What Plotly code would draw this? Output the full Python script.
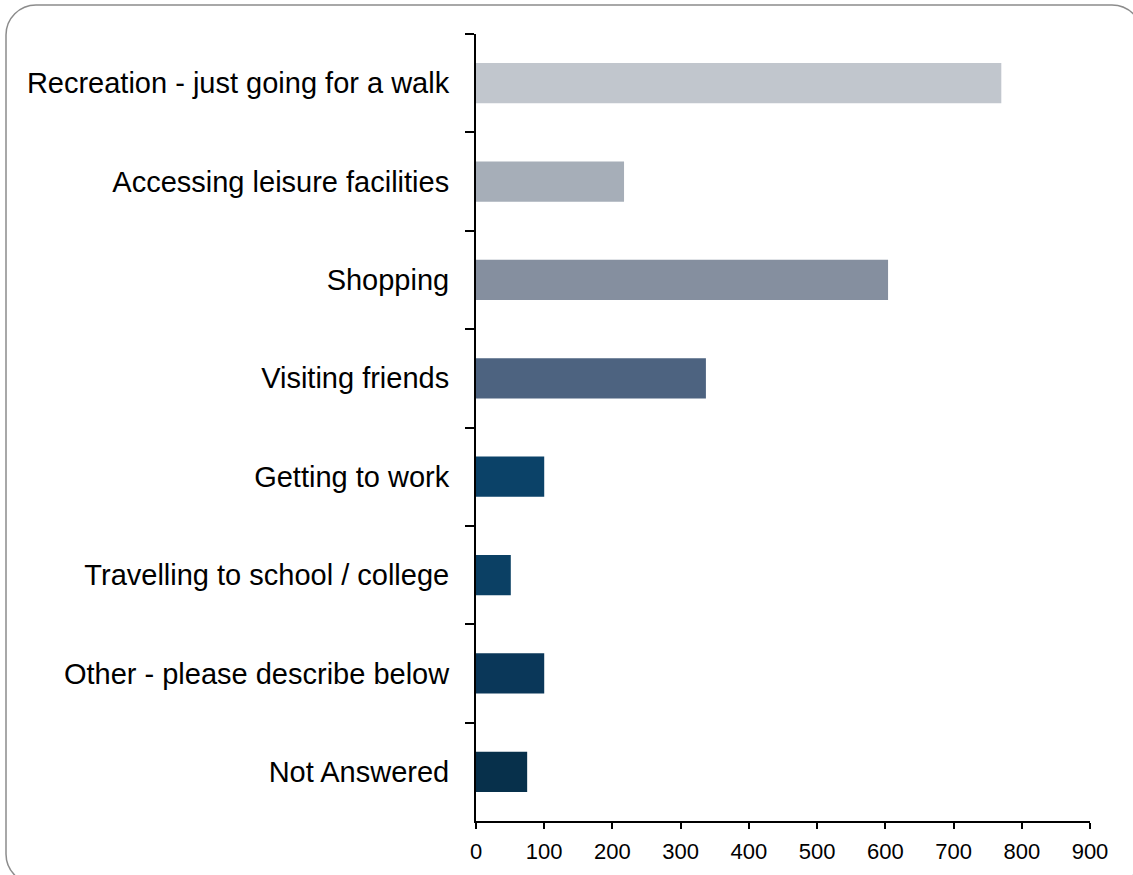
import plotly.graph_objects as go

categories = [
    "Recreation - just going for a walk",
    "Accessing leisure facilities",
    "Shopping",
    "Visiting friends",
    "Getting to work",
    "Travelling to school / college",
    "Other - please describe below",
    "Not Answered",
]
values = [770, 217, 604, 337, 100, 51, 100, 75]
bar_colors = ["#C1C6CD", "#A6AEB8", "#858F9F", "#4D6380",
              "#0B4268", "#0B4064", "#0A3759", "#07304B"]
x_ticks = [0, 100, 200, 300, 400, 500, 600, 700, 800, 900]

W, H = 1133, 875
L, R, T, B = 476, 1090, 34, 821

fig = go.Figure(go.Bar(
    x=values, y=categories, orientation="h",
    marker=dict(color=bar_colors, line=dict(width=0)),
    hoverinfo="x+y",
))

def px(x):
    return (x - L) / (R - L)

def py(y):
    return (B - y) / (B - T)

# rounded frame
x0, y0, x1, y1, r = 6, 5, 1142, 884, 30
k = 0.5523 * r
pts = [
    ("M", [(x0 + r, y0)]),
    ("L", [(x1 - r, y0)]),
    ("C", [(x1 - r + k, y0), (x1, y0 + r - k), (x1, y0 + r)]),
    ("L", [(x1, y1 - r)]),
    ("C", [(x1, y1 - r + k), (x1 - r + k, y1), (x1 - r, y1)]),
    ("L", [(x0 + r, y1)]),
    ("C", [(x0 + r - k, y1), (x0, y1 - r + k), (x0, y1 - r)]),
    ("L", [(x0, y0 + r)]),
    ("C", [(x0, y0 + r - k), (x0 + r - k, y0), (x0 + r, y0)]),
]
path = ""
for cmd, ps in pts:
    path += cmd + " " + " ".join(f"{px(a):.5f},{py(b):.5f}" for a, b in ps) + " "
path += "Z"

fig.add_shape(type="path", path=path, xref="paper", yref="paper",
              line=dict(color="#8C8C8C", width=1.5), fillcolor="rgba(0,0,0,0)",
              layer="below")

fig.update_layout(
    width=W, height=H,
    margin=dict(l=L, r=W - R, t=T, b=H - B, pad=0),
    paper_bgcolor="white", plot_bgcolor="white",
    font=dict(family="Liberation Sans, Arial, sans-serif", color="black"),
    bargap=0.59,
    showlegend=False,
    xaxis=dict(
        range=[0, 900], tickvals=x_ticks, ticktext=[str(v) for v in x_ticks],
        showgrid=False, zeroline=False,
        showline=True, linecolor="black", linewidth=1.5,
        ticks="outside", ticklen=6, tickwidth=1.5, tickcolor="black",
        tickfont=dict(size=22, color="black"),
        ticklabelstandoff=4,
    ),
    yaxis=dict(
        type="category", autorange="reversed",
        showgrid=False, zeroline=False,
        showline=True, linecolor="black", linewidth=2,
        ticks="outside", tickson="boundaries", ticklen=9, tickwidth=2, tickcolor="black",
        tickfont=dict(size=29, color="black"),
        ticklabelstandoff=19,
    ),
)

fig.write_html(
    "out.html",
    config={"displayModeBar": False},
    post_script="document.body.style.margin='0';document.body.style.overflow='hidden';",
)
